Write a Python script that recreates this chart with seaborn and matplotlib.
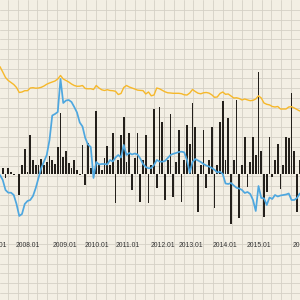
import numpy as np
import pandas as pd
import seaborn as sns
import matplotlib
matplotlib.use("Agg")
import matplotlib.pyplot as plt

# monthly series (arbitrary units)
yellow = [10.76, 10.23, 9.68, 9.38, 9.18, 8.98, 8.68, 8.18, 8.23, 8.36,
          8.36, 8.63, 8.66, 8.61, 8.63, 8.70, 8.83, 9.01, 9.13, 9.23,
          9.33, 9.53, 9.88, 9.53, 9.38, 9.23, 9.03, 8.88, 8.80, 8.81,
          8.88, 8.58, 8.55, 8.56, 8.48, 8.88, 8.63, 8.45, 8.38, 8.46,
          8.38, 8.36, 8.30, 7.98, 8.08, 8.68, 8.88, 8.73, 8.63, 8.53,
          8.42, 8.39, 8.37, 8.03, 8.23, 7.85, 7.93, 8.63, 8.55, 8.40,
          8.25, 8.15, 8.13, 8.10, 8.10, 8.10, 8.06, 7.95, 7.93, 8.13,
          8.48, 8.28, 8.11, 8.05, 8.15, 8.18, 8.12, 7.95, 7.70, 7.73,
          8.08, 8.23, 8.00, 8.03, 7.83, 7.63, 7.65, 7.58, 7.43, 7.53,
          7.44, 7.36, 7.40, 7.53, 7.85, 7.63, 7.13, 7.00, 6.94, 6.78,
          6.73, 6.78, 6.53, 6.53, 6.53, 6.73, 6.76, 6.63, 6.48, 6.33]

blue = [-0.07, -0.57, -1.57, -1.84, -1.84, -2.07, -2.97, -4.17, -3.97, -2.97,
        -2.67, -2.57, -2.17, -1.37, -0.37, 0.63, 1.28, 1.93, 3.43, 5.88,
        6.03, 6.23, 9.53, 7.13, 7.38, 7.43, 7.23, 6.73, 6.18, 5.18,
        4.78, 3.63, 2.98, 2.73, -0.37, 1.23, 0.98, 1.03, 1.03, 0.98,
        1.43, 1.28, 1.68, 1.93, 1.68, 2.93, 1.93, 2.13, 1.98, 2.08,
        1.98, 1.58, 1.03, 0.73, 0.60, 0.63, 0.93, 1.43, 1.28, 1.26,
        1.33, 1.63, 1.93, 2.05, 2.13, 2.23, 2.26, 2.20, 1.43, 0.13,
        1.23, 1.53, 1.38, 1.23, 1.03, 0.88, 0.78, 0.63, 0.45, 0.18,
        0.26, 0.03, -0.92, -0.97, -0.87, -1.12, -1.35, -1.42, -1.57, -1.87,
        -1.77, -1.97, -2.57, -3.67, -1.17, -2.37, -2.40, -3.07, -2.32, -2.47,
        -2.07, -2.22, -2.12, -2.07, -2.02, -1.92, -2.57, -2.57, -2.37, -1.92]

bars = [0.05, 0.6, -0.4, 0.6, 0.18, -0.07, 0.03, -2.07, 0.93, 2.5,
        0.23, 3.93, 1.43, 0.93, 0.93, 1.53, 0.93, 1.26, 1.83, 1.43,
        1.03, 2.73, 6.16, 1.76, 2.36, 1.13, 0.63, 1.43, 0.43, -0.12,
        2.93, -1.07, 3.1, 0.63, 0.23, 6.33, 0.93, 0.43, 1.63, 2.83,
        0.93, 4.16, -2.9, 1.43, 3.93, 5.7, 1.23, 4.1, -1.57, 1.63,
        4.1, -2.74, 1.43, 3.93, -2.9, 0.93, 6.5, -1.4, 6.76, 5.23,
        -2.57, 1.43, 6.0, -2.24, 1.23, 4.43, -2.74, 1.43, 4.93, 3.03,
        7.16, 4.7, -3.74, 0.93, 4.43, -1.37, 1.43, 4.7, -3.37, 0.93,
        5.2, 7.33, 1.43, 5.6, -4.97, 1.43, 7.4, -4.4, 0.93, 3.76,
        -1.24, 1.23, 3.76, 1.93, 10.26, 2.36, -4.24, -1.74, 3.76, -0.24,
        1.43, 3.06, -1.45, 0.93, 3.76, 3.6, 8.1, 2.36, -3.74, 1.43]

tick_labels = ['2007.01', '2008.01', '2009.01', '2010.01', '2011.01',
               '2012.01', '2013.01', '2014.01', '2015.01', '2016.01']
tick_pos = [-1.9, 10, 23.6, 35.3, 46.4, 59.3, 69.6, 81.8, 94.2, 110.9]

df = pd.DataFrame({'month': np.arange(len(bars)), 'bars': bars,
                   'blue': blue, 'yellow': yellow})

sns.set_theme(style="white")
plt.rcParams['font.family'] = ['Liberation Sans', 'DejaVu Sans']

fig = plt.figure(figsize=(3, 3), dpi=100)

# graph-paper background
bg = fig.add_axes([0, 0, 1, 1])
bg.set_facecolor('#f3efe4')
bg.set_xlim(0, 300)
bg.set_ylim(300, 0)
bg.set_xticks(np.arange(8, 300, 9.75))
bg.set_yticks(np.arange(10, 300, 9.75))
bg.grid(True, color='#d5d0c5', linewidth=0.6)
bg.tick_params(length=0, labelbottom=False, labelleft=False)
for s in bg.spines.values():
    s.set_visible(False)

# data axes, wider than the figure so the series run off both edges
ax = fig.add_axes([-0.1, 0.2067, 1.2, 0.7933])
ax.patch.set_alpha(0)
ax.bar(df['month'], df['bars'], width=0.58, color='#24201b', linewidth=0)
sns.lineplot(data=df, x='month', y='blue', ax=ax, color='#4ea7df', linewidth=1.25)
sns.lineplot(data=df, x='month', y='yellow', ax=ax, color='#f6b82a', linewidth=1.0)

ax.set_xlim(-30 / 2.75, 330 / 2.75)
ax.set_ylim(-6.37, 17.43)
ax.set_xticks(tick_pos)
ax.set_xticklabels(tick_labels)
ax.set_yticks([])
ax.set_xlabel('')
ax.set_ylabel('')
ax.tick_params(axis='x', length=0, pad=3, labelsize=4.9, labelcolor='#333333')
for s in ax.spines.values():
    s.set_visible(False)

fig.savefig('out.png', dpi=100)
